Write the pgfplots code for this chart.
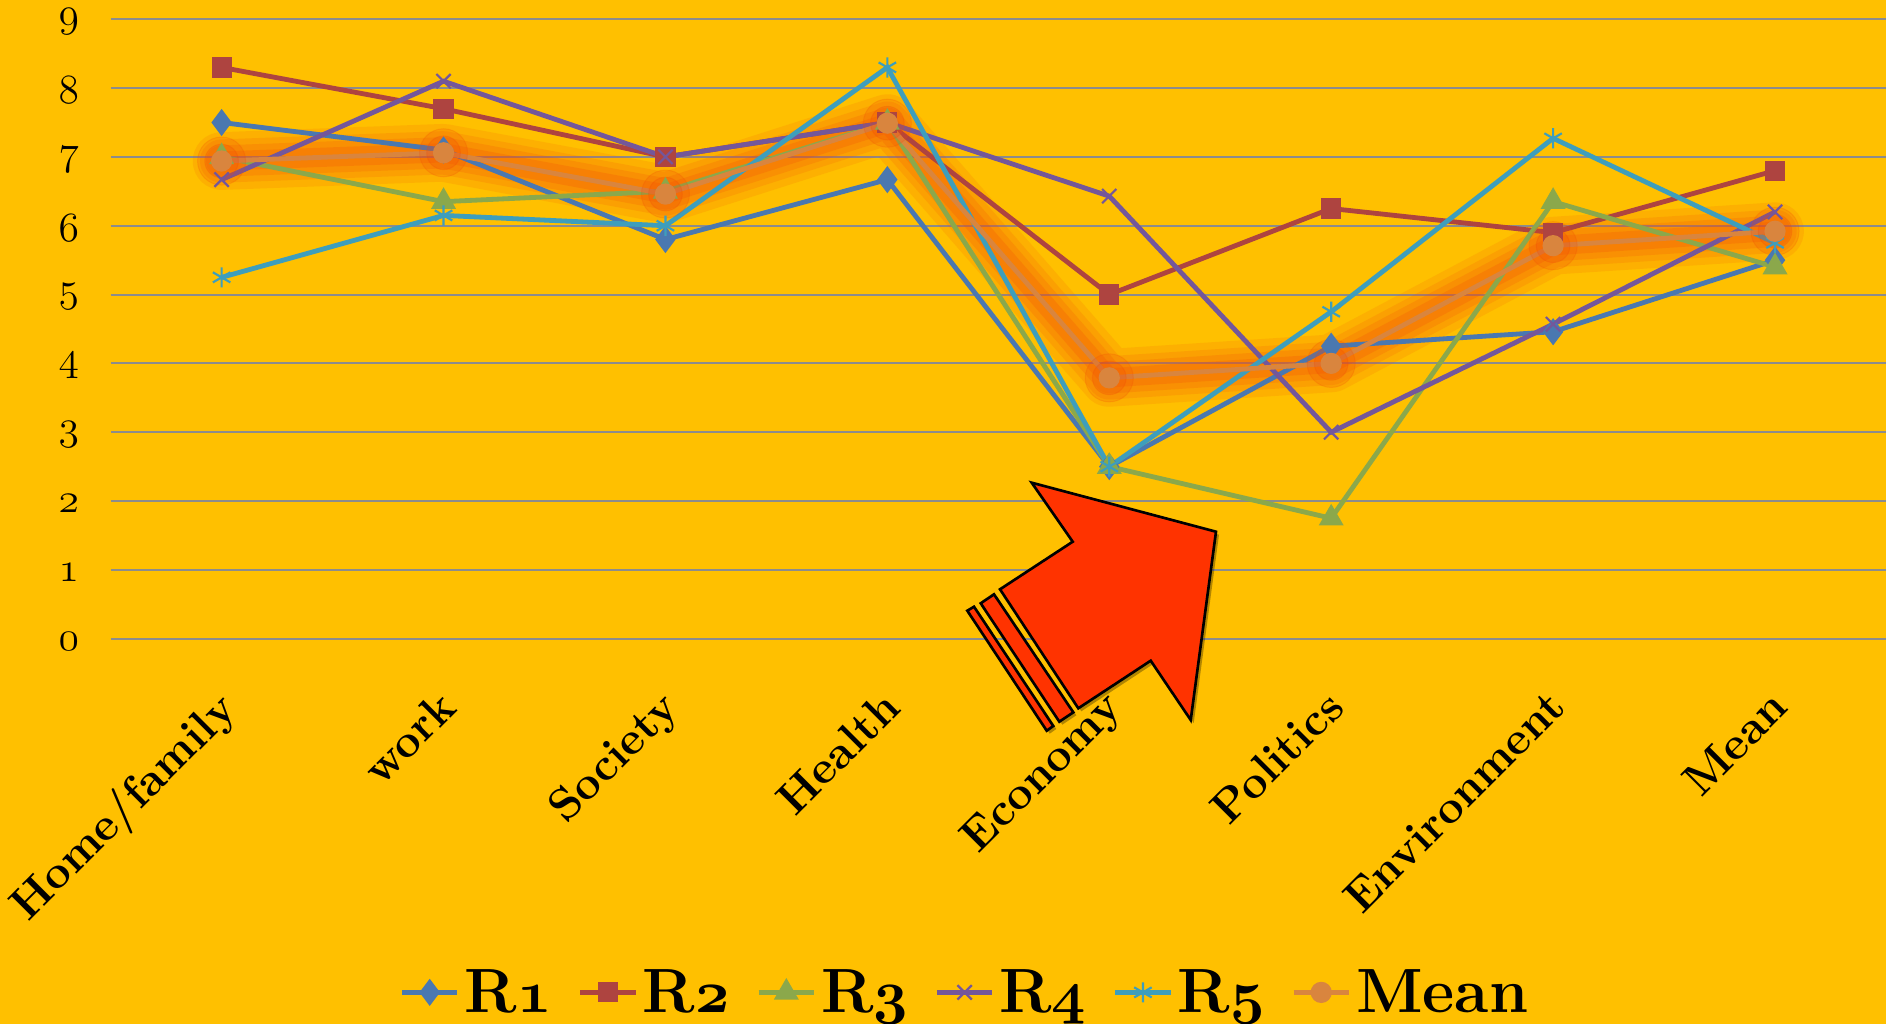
\documentclass[border=0pt]{standalone}
\usepackage{pgfplots}
\pgfplotsset{compat=1.18}
\definecolor{bg}{HTML}{FFC000}
\definecolor{cA}{HTML}{4A78B0}
\definecolor{cB}{HTML}{AE4440}
\definecolor{cC}{HTML}{8BA84B}
\definecolor{cD}{HTML}{74579A}
\definecolor{cE}{HTML}{3E9EBC}
\definecolor{cM}{HTML}{D9853E}
\definecolor{glow}{HTML}{F24A08}
\definecolor{gridc}{HTML}{8C8C8C}
\definecolor{arrowc}{HTML}{FF3300}
\pgfplotsset{legend image code/.code={\draw[mark repeat=2,mark phase=2,#1] plot coordinates {(0pt,0pt) (11.5pt,0pt) (23pt,0pt)};}}
\newcommand{\os}[1]{{\boldmath$\mathnormal{#1}$}}
\pgfplotstableread{
x R1 R2 R3 R4 R5 M
0 7.5 8.3 7.0 6.67 5.25 6.94
1 7.1 7.7 6.35 8.1 6.15 7.06
2 5.8 7.0 6.5 7.0 6.0 6.46
3 6.67 7.5 7.5 7.5 8.3 7.49
4 2.5 5.0 2.5 6.43 2.5 3.79
5 4.25 6.25 1.75 3.0 4.75 4.0
6 4.46 5.9 6.35 4.57 7.27 5.71
7 5.5 6.8 5.4 6.2 5.75 5.92
}\data
\begin{document}
\begin{tikzpicture}
\path[use as bounding box] (-46pt,-160pt) rectangle (738pt,265.5pt);
\fill[bg] (-46pt,-160pt) rectangle (738pt,265.5pt);
\begin{axis}[
  scale only axis, width=738pt, height=257.5pt,
  xmin=-0.5, xmax=7.5, ymin=0, ymax=9,
  axis line style={draw=none},
  major tick length=0pt,
  ytick={0,1,2,3,4,5,6,7,8,9},
  yticklabels={$\mathnormal{0}$,$\mathnormal{1}$,$\mathnormal{2}$,$\mathnormal{3}$,$\mathnormal{4}$,$\mathnormal{5}$,$\mathnormal{6}$,$\mathnormal{7}$,$\mathnormal{8}$,$\mathnormal{9}$},
  ymajorgrids, major grid style={gridc, line width=0.8pt},
  xtick={0,1,2,3,4,5,6,7},
  xticklabels={Home/family, work, Society, Health, Economy, Politics, Environment, Mean},
  xticklabel style={font=\fontsize{19}{21}\selectfont\bfseries, inner sep=0pt, xshift=-3pt, yshift=-20pt, rotate=45, anchor=north east},
  yticklabel style={font=\fontsize{18}{20}\selectfont, inner sep=0pt, anchor=east, xshift=-13pt, yshift=-1pt},
  legend columns=-1,
  legend style={at={(0.482,-0.571)}, anchor=center, draw=none, fill=none,
    font=\fontsize{26}{28}\selectfont\bfseries,
    /tikz/every even column/.append style={column sep=9pt}},
]
% soft glow under the mean series
\addplot[glow, opacity=0.13, line width=24pt, line join=round, line cap=round, forget plot] table[x=x,y=M]{\data};
\addplot[glow, opacity=0.15, line width=18pt, line join=round, line cap=round, forget plot] table[x=x,y=M]{\data};
\addplot[glow, opacity=0.18, line width=13pt, line join=round, line cap=round, forget plot] table[x=x,y=M]{\data};
\addplot[glow, opacity=0.22, line width=8pt, line join=round, line cap=round, forget plot] table[x=x,y=M]{\data};
\addplot[glow, only marks, mark=*, mark size=10pt, opacity=0.18, forget plot] table[x=x,y=M]{\data};
\addplot[glow, only marks, mark=*, mark size=7pt, opacity=0.22, forget plot] table[x=x,y=M]{\data};
\addplot[cA, line width=2pt, mark=diamond*, mark size=4pt] table[x=x,y=R1]{\data};
\addplot[cB, line width=2pt, mark=square*, mark size=3.2pt] table[x=x,y=R2]{\data};
\addplot[cC, line width=2pt, mark=triangle*, mark size=4pt] table[x=x,y=R3]{\data};
\addplot[cD, line width=2pt, mark=x, mark size=4.2pt, mark options={line width=0.9pt}] table[x=x,y=R4]{\data};
\addplot[cE, line width=2pt, mark=asterisk, mark size=4.2pt, mark options={line width=0.9pt}] table[x=x,y=R5]{\data};
\addplot[cM, line width=2pt, mark=*, mark size=3.4pt] table[x=x,y=M]{\data};
\legend{R\os{1}, R\os{2}, R\os{3}, R\os{4}, R\os{5}, Mean}
\end{axis}
\begin{scope}[shift={(-46pt,265.5pt)}, x=0.4157pt, y=-0.4157pt]
  \begin{scope}[shift={(3,3)}]
    \fill[black, opacity=0.3] (1031.7,482.7) -- (1216,531.7) -- (1190.7,720) -- (1150.7,660.7) -- (1078.3,708.3) -- (1000,589.3) -- (1072.7,541.7) -- cycle;
    \fill[black, opacity=0.3] (980.7,603.3) -- (994,594.3) -- (1073.3,712.3) -- (1059.3,721.7) -- cycle;
    \fill[black, opacity=0.3] (967.3,610.7) -- (974,606.7) -- (1053.3,726) -- (1046.7,730.7) -- cycle;
  \end{scope}
  \filldraw[fill=arrowc, draw=black, line width=1.1pt, line join=miter] (1031.7,482.7) -- (1216,531.7) -- (1190.7,720) -- (1150.7,660.7) -- (1078.3,708.3) -- (1000,589.3) -- (1072.7,541.7) -- cycle;
  \filldraw[fill=arrowc, draw=black, line width=1.1pt] (980.7,603.3) -- (994,594.3) -- (1073.3,712.3) -- (1059.3,721.7) -- cycle;
  \filldraw[fill=arrowc, draw=black, line width=1.1pt] (967.3,610.7) -- (974,606.7) -- (1053.3,726) -- (1046.7,730.7) -- cycle;
\end{scope}
\end{tikzpicture}
\end{document}
